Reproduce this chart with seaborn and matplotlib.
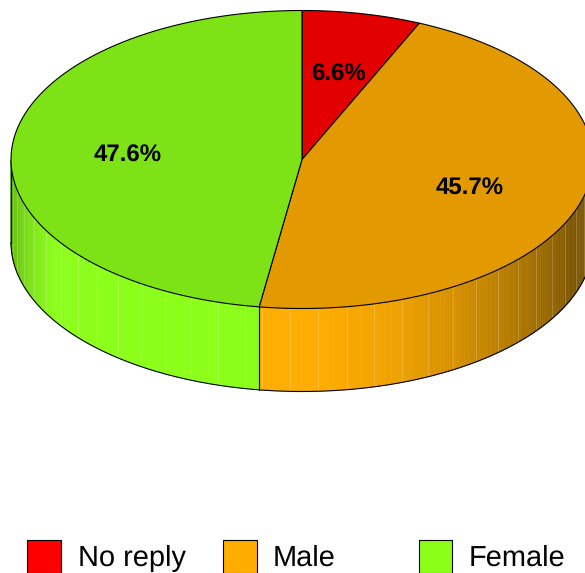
import numpy as np
import seaborn as sns
import matplotlib
matplotlib.use("Agg")
import matplotlib.pyplot as plt
from matplotlib.patches import Polygon, Rectangle

categories = ["No reply", "Male", "Female"]
shares = [6.6, 45.7, 47.6]
base_colors = ["#FF0000", "#FFAD00", "#8CFF19"]

sns.set_theme(style="white")
plt.rcParams["font.family"] = ["Liberation Sans", "DejaVu Sans"]
plt.rcParams["text.hinting"] = "none"
plt.rcParams["text.hinting_factor"] = 1
palette = sns.color_palette(base_colors)

W, H = 585, 573
fig = plt.figure(figsize=(W / 100, H / 100), dpi=100)
ax = fig.add_axes([0, 0, 1, 1])
ax.set_xlim(0, W)
ax.set_ylim(H, 0)
ax.axis("off")

CX, CY, RX, RY, DEPTH = 302, 159.5, 291, 149, 83
STRIP = 2.8


def ell(theta, dy=0.0):
    t = np.radians(theta)
    return np.column_stack([CX + RX * np.sin(t), CY - RY * np.cos(t) + dy])


def shade(theta):
    return np.interp(theta, [90, 113, 128, 142, 160, 178, 238, 270],
                     [0.45, 0.5, 0.65, 0.78, 0.93, 1.0, 1.0, 0.68])


def scaled(color, k):
    return tuple(np.clip(np.array(color) * k, 0, 1))


edges = np.concatenate([[0], np.cumsum(shares)]) / np.sum(shares) * 360

# Rim
for i, color in enumerate(palette):
    lo, hi = max(edges[i], 90), min(edges[i + 1], 270)
    if hi <= lo:
        continue
    steps = np.arange(lo, hi, STRIP / 4)
    steps = np.append(steps, hi)
    for a, b in zip(steps[:-1], steps[1:]):
        pts = np.vstack([ell(np.array([a, b])), ell(np.array([b, a]), DEPTH)])
        c = scaled(color, shade((a + b) / 2))
        ax.add_patch(Polygon(pts, closed=True, fc=c, ec=c, lw=0.4, zorder=1))
    ticks = np.arange(lo + STRIP, hi, STRIP * 2)
    for th in ticks:
        p = np.vstack([ell(np.array([th])), ell(np.array([th]), DEPTH)])
        ax.plot(p[:, 0], p[:, 1], color="white", lw=0.7, alpha=0.2, zorder=2)

arc = np.linspace(90, 270, 400)
bottom = ell(arc, DEPTH)
ax.plot(bottom[:, 0], bottom[:, 1], color="black", lw=0.8, zorder=3)
for th in [edges[2], 270]:
    p = np.vstack([ell(np.array([th])), ell(np.array([th]), DEPTH)])
    ax.plot(p[:, 0], p[:, 1], color="black", lw=0.8, zorder=3)

# Top
for i, color in enumerate(palette):
    arc = np.linspace(edges[i], edges[i + 1], 300)
    pts = np.vstack([[CX, CY], ell(arc)])
    ax.add_patch(Polygon(pts, closed=True, fc=scaled(color, 0.89), ec="black",
                         lw=0.8, joinstyle="round", zorder=4))

# Value labels
label_x = [338, 470, 128]
label_y = [75, 188, 156]
for v, x, y in zip(shares, label_x, label_y):
    ax.text(x, y, f"{v:.1f}%", ha="center", va="center", fontsize=17.4,
            fontweight="bold", color="black", zorder=5)

# Legend
swatch_x = [27, 223, 418.5]
text_x = [78, 273, 469]
for name, color, sx, tx in zip(categories, palette, swatch_x, text_x):
    ax.add_patch(Rectangle((sx, 539.5), 33.5, 33.5, fc=color, ec="black", lw=0.8,
                           clip_on=True, zorder=5))
    ax.text(tx, 558, name, ha="left", va="center", fontsize=20.9, color="black", zorder=5)

fig.savefig("out.png", dpi=100, facecolor="white")
